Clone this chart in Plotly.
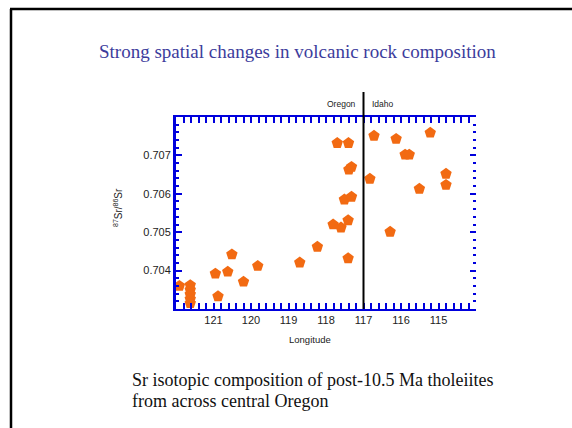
import plotly.graph_objects as go

# Longitude (degrees W) and 87Sr/86Sr values
longitude = [121.91, 121.62, 121.62, 121.62, 121.62, 121.62,
             120.95, 120.88, 120.62, 120.51, 120.20, 119.82,
             118.70, 118.23, 117.70, 117.40, 117.39, 117.32,
             117.51, 117.32, 117.81, 117.60, 117.41, 117.41,
             116.83, 116.72, 116.13, 115.89, 115.78, 115.22,
             114.80, 114.80, 115.51, 116.29]
sr_ratio = [0.70360, 0.70362, 0.70350, 0.70338, 0.70326, 0.70315,
            0.70392, 0.70333, 0.70397, 0.70442, 0.70371, 0.70412,
            0.70421, 0.70462, 0.70732, 0.70732, 0.70663, 0.70670,
            0.70585, 0.70592, 0.70520, 0.70512, 0.70531, 0.70432,
            0.70639, 0.70751, 0.70743, 0.70702, 0.70702, 0.70759,
            0.70652, 0.70623, 0.70613, 0.70501]

x_tickvals = [121, 120, 119, 118, 117, 116, 115]
x_ticktext = ["121", "120", "119", "118", "117", "116", "115"]
y_tickvals = [0.704, 0.705, 0.706, 0.707]
y_ticktext = ["0.704", "0.705", "0.706", "0.707"]
boundary_lon = 117.0

W, H = 572, 428
L, R, T, B = 176, 476, 117, 309
pw, ph = R - L, B - T

def px(x):
    return (x - L) / pw

def py(y):
    return (B - y) / ph

BLUE = "#0000dd"
ORANGE = "#f26a12"

fig = go.Figure()
fig.add_trace(go.Scatter(
    x=longitude, y=sr_ratio, mode="markers",
    marker=dict(symbol="pentagon", size=12, color=ORANGE,
                line=dict(width=0)),
    showlegend=False, cliponaxis=False,
))
# empty trace on the right-hand axis (ticks only, no axis line)
fig.add_trace(go.Scatter(x=[], y=[], yaxis="y2", showlegend=False))

axis_font = dict(family="Liberation Sans, Arial", size=11, color="#222222")

fig.update_layout(
    xaxis=dict(
        range=[122, 114], showgrid=False, zeroline=False,
        showline=True, linecolor=BLUE, linewidth=2, mirror="allticks",
        ticks="inside", ticklen=6, tickwidth=2, tickcolor=BLUE,
        tickvals=x_tickvals, ticktext=x_ticktext, tickfont=axis_font,
        minor=dict(dtick=0.2, ticks="inside", ticklen=3, tickwidth=2,
                   tickcolor=BLUE, showgrid=False),
    ),
    yaxis=dict(
        range=[0.703, 0.708], showgrid=False, zeroline=False,
        showline=True, linecolor=BLUE, linewidth=3, mirror=False,
        ticks="inside", ticklen=6, tickwidth=2, tickcolor=BLUE,
        tickvals=y_tickvals, ticktext=y_ticktext, tickfont=axis_font,
        minor=dict(dtick=0.0002, ticks="inside", ticklen=3, tickwidth=2,
                   tickcolor=BLUE, showgrid=False),
    ),
    yaxis2=dict(
        overlaying="y", side="right",
        range=[0.703, 0.708], showgrid=False, zeroline=False,
        showline=False, showticklabels=False,
        ticks="inside", ticklen=6, tickwidth=2, tickcolor=BLUE,
        tickvals=y_tickvals,
        minor=dict(dtick=0.0002, ticks="inside", ticklen=3, tickwidth=2,
                   tickcolor=BLUE, showgrid=False),
    ),
)

shapes = [
    # Oregon / Idaho boundary
    dict(type="line", xref="x", yref="paper", x0=boundary_lon, x1=boundary_lon,
         y0=0, y1=py(92), line=dict(color="black", width=2)),
    # slide frame (left and top)
    dict(type="line", xref="paper", yref="paper", x0=px(11), x1=px(11),
         y0=py(9), y1=py(430), line=dict(color="black", width=2.5)),
    dict(type="line", xref="paper", yref="paper", x0=px(10), x1=px(575),
         y0=py(9), y1=py(9), line=dict(color="black", width=2.5)),
]

serif = "Liberation Serif, Times New Roman"
sans = "Liberation Sans, Arial"
annotations = [
    dict(text="Strong spatial changes in volcanic rock composition",
         xref="paper", yref="paper", x=px(297), y=py(51),
         xanchor="center", yanchor="middle", showarrow=False,
         font=dict(family=serif, size=19, color="#3c3c9c")),
    dict(text="Oregon", xref="paper", yref="paper", x=px(358), y=py(104),
         xanchor="right", yanchor="middle", showarrow=False,
         font=dict(family=sans, size=8.5, color="#222222")),
    dict(text="Idaho", xref="paper", yref="paper", x=px(370), y=py(104),
         xanchor="left", yanchor="middle", showarrow=False,
         font=dict(family=sans, size=8.5, color="#222222")),
    dict(text="Longitude", xref="paper", yref="paper", x=px(310), y=py(339),
         xanchor="center", yanchor="middle", showarrow=False,
         font=dict(family=sans, size=9.5, color="#222222")),
    dict(text="<sup>87</sup>Sr/<sup>86</sup>Sr", xref="paper", yref="paper",
         x=px(118), y=py(208), xanchor="center", yanchor="middle",
         textangle=-90, showarrow=False,
         font=dict(family=sans, size=10, color="#222222")),
    dict(text="Sr isotopic composition of post-10.5 Ma tholeiites",
         xref="paper", yref="paper", x=px(130), y=py(380),
         xanchor="left", yanchor="middle", showarrow=False,
         font=dict(family=serif, size=18, color="#111111")),
    dict(text="from across central Oregon",
         xref="paper", yref="paper", x=px(130), y=py(401),
         xanchor="left", yanchor="middle", showarrow=False,
         font=dict(family=serif, size=18, color="#111111")),
]

fig.update_layout(
    width=W, height=H,
    margin=dict(l=L, r=W - R, t=T, b=H - B),
    paper_bgcolor="white", plot_bgcolor="white",
    shapes=shapes, annotations=annotations,
)

fig.write_html("out.html", config={"displayModeBar": False},
               post_script="document.body.style.margin='0';document.body.style.overflow='hidden';")
